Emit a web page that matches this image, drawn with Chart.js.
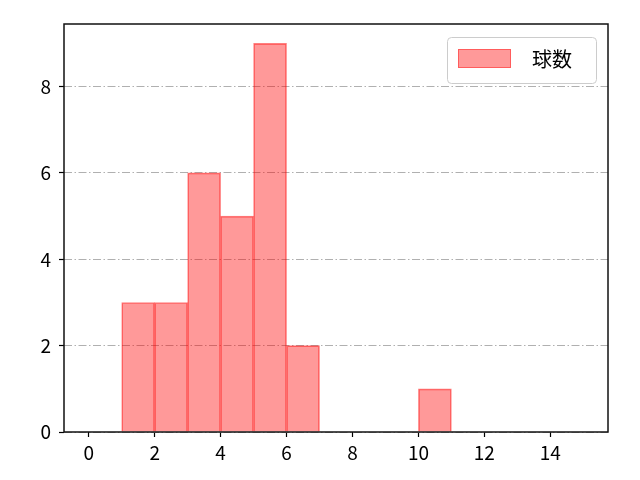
<!DOCTYPE html>
<html>
<head>
<meta charset="utf-8">
<script src="https://cdn.jsdelivr.net/npm/chart.js@4"></script>
<style>
  body { margin: 0; background: #fff; }
  #wrap { width: 640px; height: 480px; }
</style>
</head>
<body>
<div id="wrap"><canvas id="histChart" width="640" height="480"></canvas></div>
<script>
// bins (left edges) and counts
var binStarts = [1, 2, 3, 4, 5, 6, 10];
var counts = [3, 3, 6, 5, 9, 2, 1];
var xTicks = [0, 2, 4, 6, 8, 10, 12, 14];
var yTicks = [0, 2, 4, 6, 8];
var seriesLabel = '球数';

var fontFamily = "'Noto Sans CJK JP', 'DejaVu Sans', sans-serif";

var points = [];
binStarts.forEach(function (b, i) {
    points.push({ x: b + 0.5, y: counts[i] });
});

// box around plot + legend drawn by hand, matplotlib style
var framePlugin = {
    id: 'frame',
    afterDraw: function (chart) {
        var ctx = chart.ctx;
        var a = chart.chartArea;
        ctx.save();
        ctx.strokeStyle = '#111';
        ctx.lineWidth = 1.5;
        ctx.strokeRect(a.left, a.top, a.right - a.left, a.bottom - a.top);

        // legend
        var lx = 447, ly = 37, lw = 149, lh = 46;
        ctx.fillStyle = 'rgba(255,255,255,0.8)';
        ctx.strokeStyle = '#cccccc';
        ctx.lineWidth = 1;
        ctx.beginPath();
        ctx.roundRect(lx + 0.5, ly + 0.5, lw, lh, 4);
        ctx.fill();
        ctx.stroke();
        ctx.fillStyle = 'rgba(255,0,0,0.4)';
        ctx.strokeStyle = 'rgba(255,0,0,0.4)';
        ctx.fillRect(458, 49, 53, 19);
        ctx.strokeRect(458.5, 49.5, 52, 18);
        ctx.fillStyle = '#000';
        ctx.font = '20px ' + fontFamily;
        ctx.textBaseline = 'middle';
        ctx.textAlign = 'left';
        ctx.fillText(chart.data.datasets[0].label, 532, 59);
        ctx.restore();
    }
};

var ctx = document.getElementById('histChart');
var myChart = new Chart(ctx, {
    type: 'bar',
    data: {
        datasets: [{
            label: seriesLabel,
            data: points,
            backgroundColor: 'rgba(255,0,0,0.4)',
            borderColor: 'rgba(255,0,0,0.5)',
            borderWidth: 1,
            barPercentage: 1,
            categoryPercentage: 1
        }]
    },
    options: {
        responsive: false,
        animation: false,
        layout: { padding: { left: 0, right: 32, top: 24, bottom: 0 } },
        plugins: {
            legend: { display: false },
            tooltip: { enabled: false }
        },
        scales: {
            x: {
                type: 'linear',
                min: -0.75,
                max: 15.75,
                offset: false,
                afterBuildTicks: function (scale) {
                    scale.ticks = xTicks.map(function (v) { return { value: v }; });
                },
                afterFit: function (scale) { scale.height = 48; },
                grid: {
                    offset: false,
                    drawOnChartArea: false,
                    tickLength: 5,
                    tickColor: '#000',
                    tickWidth: 1.2
                },
                border: { display: false },
                ticks: {
                    color: '#000',
                    font: { family: fontFamily, size: 19 },
                    padding: 4,
                    maxRotation: 0
                }
            },
            y: {
                min: 0,
                max: 9.45,
                z: 1,
                afterBuildTicks: function (scale) {
                    scale.ticks = yTicks.map(function (v) { return { value: v }; });
                },
                afterFit: function (scale) { scale.width = 64; },
                grid: {
                    color: '#b0b0b0',
                    lineWidth: 1,
                    tickLength: 5,
                    tickColor: '#000',
                    tickWidth: 1.2
                },
                border: { display: false, dash: [8, 2.5, 1.5, 2.5] },
                ticks: {
                    color: '#000',
                    font: { family: fontFamily, size: 19 },
                    padding: 8
                }
            }
        }
    },
    plugins: [framePlugin]
});
</script>
</body>
</html>
